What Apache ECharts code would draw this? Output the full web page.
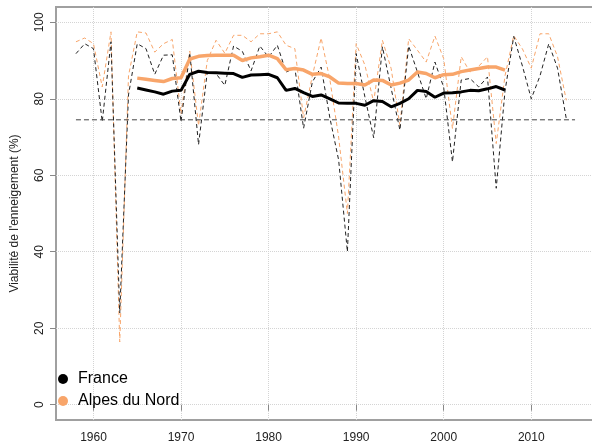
<!DOCTYPE html>
<html>
<head>
<meta charset="utf-8">
<script src="https://cdn.jsdelivr.net/npm/echarts@6/dist/echarts.min.js"></script>
<style>
html,body{margin:0;padding:0;background:#fff;}
#c{width:592px;height:441px;}
</style>
</head>
<body>
<div id="c"></div>
<script>
// ---- data ----
var years = [];
for (var y = 1958; y <= 2014; y++) years.push(y);

var franceAnnual = [91.8, 94.4, 93.1, 74.0, 94.9, 24.0, 81.0, 94.4, 93.1, 86.4,
  91.4, 91.5, 74.0, 92.0, 68.0, 87.0, 86.6, 83.5, 93.8, 92.4,
  87.3, 93.8, 90.9, 94.0, 87.0, 88.0, 72.3, 84.4, 88.3, 75.0,
  64.0, 40.0, 91.8, 80.5, 69.8, 93.6, 82.7, 71.8, 93.8, 87.0,
  80.0, 89.6, 83.0, 63.5, 84.9, 85.3, 83.1, 85.7, 56.6, 82.0,
  96.3, 88.5, 80.0, 86.0, 94.4, 88.0, 74.8];

var alpesAnnual = [94.9, 95.9, 94.4, 83.1, 97.5, 16.4, 86.0, 97.5, 97.2, 92.2,
  94.4, 95.5, 76.0, 92.5, 73.0, 90.0, 95.3, 91.9, 96.6, 96.6,
  94.9, 97.0, 97.0, 97.5, 94.0, 93.1, 75.0, 86.0, 95.9, 85.0,
  70.0, 50.0, 94.4, 88.8, 79.2, 95.3, 87.9, 73.0, 95.7, 92.7,
  89.6, 96.4, 90.5, 72.2, 91.0, 87.0, 88.5, 91.0, 68.3, 86.0,
  96.5, 93.0, 88.0, 97.0, 97.0, 91.0, 79.6];

var smoothYears = [];
for (var s = 1965; s <= 2007; s++) smoothYears.push(s);

var franceSmooth = [82.8, 82.3, 81.8, 81.2, 82.0, 82.2, 86.4, 87.2, 86.9, 86.8,
  86.7, 86.6, 85.6, 86.2, 86.3, 86.4, 85.5, 82.2, 82.7, 81.6,
  80.6, 81.0, 80.0, 78.9, 78.8, 78.8, 78.3, 79.5, 79.3, 77.9,
  78.8, 80.0, 82.2, 81.9, 80.4, 81.5, 81.6, 81.8, 82.2, 82.1,
  82.6, 83.2, 82.3];

var alpesSmooth = [85.4, 85.1, 84.8, 84.5, 85.3, 85.5, 90.4, 91.1, 91.3, 91.4,
  91.4, 91.4, 90.0, 90.7, 91.0, 91.4, 90.5, 87.6, 87.9, 87.5,
  86.4, 86.6, 85.7, 84.1, 84.0, 84.0, 83.6, 84.9, 84.8, 83.6,
  84.1, 84.9, 87.0, 86.6, 85.5, 86.3, 86.4, 87.1, 87.5, 87.9,
  88.3, 88.3, 87.5];

var thresholdValue = 74.5;
var thresholdYears = [1958, 2015];

var xTicks = [1960, 1970, 1980, 1990, 2000, 2010];
var yTicks = [0, 20, 40, 60, 80, 100];

var seriesNames = ['France', 'Alpes du Nord'];
var yAxisTitle = "Viabilité de l'enneigement (%)";

// ---- helpers ----
function pairs(xs, vs) { return xs.map(function (x, i) { return [x, vs[i]]; }); }

var BLACK = '#000000';
var ORANGE = '#F8A56A';
var FONT = '"Liberation Sans", Arial, sans-serif';

var chart = echarts.init(document.getElementById('c'), null, { renderer: 'canvas' });
chart.setOption({
  animation: false,
  backgroundColor: '#ffffff',
  grid: {
    left: 56, top: 7, width: 539, height: 413,
    containLabel: false, outerBoundsMode: 'none',
    show: true, borderColor: '#a0a0a0', borderWidth: 2, backgroundColor: 'transparent'
  },
  legend: {
    data: seriesNames,
    orient: 'vertical',
    left: 53, top: 365,
    icon: 'circle',
    itemWidth: 10, itemHeight: 10, itemGap: 4,
    textStyle: { fontFamily: FONT, fontSize: 16, color: '#000', lineHeight: 18, padding: [0, 0, 0, 5] }
  },
  xAxis: {
    type: 'value', min: 1955.72, max: 2017.28,
    axisLine: { show: false },
    axisTick: { show: true, length: 6, customValues: xTicks, lineStyle: { color: '#888' } },
    axisLabel: {
      customValues: xTicks, fontFamily: FONT, fontSize: 12, color: '#222', margin: 12,
      formatter: function (v) { return String(v); }
    },
    splitLine: { show: true, lineStyle: { color: '#d4d4d4', type: 'dotted', width: 1 } }
  },
  yAxis: {
    type: 'value', min: -4, max: 104,
    name: yAxisTitle, nameLocation: 'middle', nameGap: 35,
    nameTextStyle: { fontFamily: FONT, fontSize: 12, color: '#222' },
    axisLine: { show: false },
    axisTick: { show: true, length: 6, customValues: yTicks, lineStyle: { color: '#888' } },
    axisLabel: { customValues: yTicks, rotate: 90, fontFamily: FONT, fontSize: 12, color: '#222', margin: 10 },
    splitLine: { show: true, lineStyle: { color: '#d4d4d4', type: 'dotted', width: 1 } }
  },
  series: [
    {
      name: 'Alpes du Nord annuel', type: 'line', data: pairs(years, alpesAnnual),
      symbol: 'none', lineStyle: { color: ORANGE, width: 1, type: [4, 3] }, itemStyle: { color: ORANGE }, z: 2
    },
    {
      name: 'France annuel', type: 'line', data: pairs(years, franceAnnual),
      symbol: 'none', lineStyle: { color: '#222', width: 1, type: [4, 3] }, itemStyle: { color: '#222' }, z: 3
    },
    {
      name: 'Seuil', type: 'line', data: thresholdYears.map(function (x) { return [x, thresholdValue]; }),
      symbol: 'none', lineStyle: { color: '#444', width: 1, type: [5, 3] }, itemStyle: { color: '#444' }, z: 4
    },
    {
      name: 'Alpes du Nord', type: 'line', data: pairs(smoothYears, alpesSmooth),
      symbol: 'none', lineStyle: { color: ORANGE, width: 3.5 }, itemStyle: { color: ORANGE }, z: 5
    },
    {
      name: 'France', type: 'line', data: pairs(smoothYears, franceSmooth),
      symbol: 'none', lineStyle: { color: BLACK, width: 3 }, itemStyle: { color: BLACK }, z: 6
    }
  ]
});
</script>
</body>
</html>
